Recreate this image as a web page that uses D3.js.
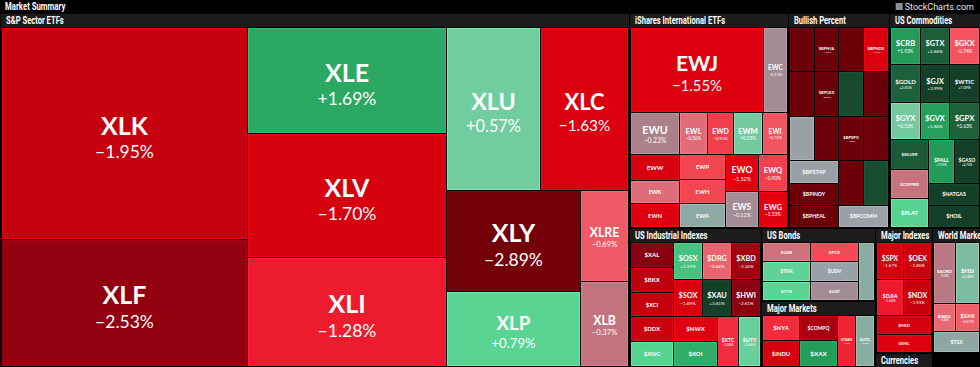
<!DOCTYPE html>
<html>
<head>
<meta charset="utf-8">
<script src="https://cdn.jsdelivr.net/npm/d3@7"></script>
<style>
  html, body { margin: 0; padding: 0; background: #000; overflow: hidden; }
  svg { display: block; }
</style>
</head>
<body>
<script>
// Market Summary treemap (StockCharts style)
// sizes = relative cell areas, changes = % move (colour + label)

// S&P Sector ETFs
var spTickers = ["XLK","XLF","XLE","XLV","XLI","XLU","XLC","XLY","XLP","XLRE","XLB"];
var spChanges = [-1.95,-2.53,1.69,-1.70,-1.28,0.57,-1.63,-2.89,0.79,-0.69,-0.37];
var spSizes   = [54810,32680,21955,25890,22576,16027,15004,14297,10513,4619,4268];

// iShares International ETFs
var isTickers = ["EWJ","EWC","EWU","EWL","EWD","EWM","EWI","EWW","EWK","EWN","EWP","EWH","EWA","EWO","EWS","EWQ","EWG"];
var isChanges = [-1.55,-0.11,-0.23,-0.56,-0.91,0.53,-0.72,-1.68,-0.55,-1.55,-0.86,-0.84,0.12,-1.52,-0.11,-0.90,-1.53];
var isSizes   = [12218,2239,2265,1321,1227,1321,1180,1369,1211,1264,1262,1211,1211,1299,1264,1177,1146];

// Bullish Percent ("" = no label shown)
var bpTickers = ["","","","$BPNYA","$BPOEX","","","","$BPSPX","$BPNDX","","","$BPSTAP","$BPINDY","","","$BPHEAL","$BPCOMM"];
var bpChanges = [-4.1,-3.8,0.0,-4.76,-3.85,-3.9,-3.7,3.2,-4.35,-1.61,-3.6,-3.9,0.0,-3.7,-3.8,3.1,-3.6,0.0];
var bpSizes   = [1206,1206,1206,1206,1206,1206,1206,1206,1206,1206,1206,1206,1206,1206,1206,1206,1206,1206];

// US Commodities
var cmTickers = ["$CRB","$GTX","$GKX","$GOLD","$GJX","$WTIC","$GYX","$GVX","$GPX","$SILVER","$COPPER","$PLAT","$PALL","$GASO","$NATGAS","$HOIL"];
var cmChanges = [1.93,2.66,-0.74,2.61,3.99,7.09,0.53,1.86,2.63,2.75,-0.40,0.85,1.95,4.70,3.80,4.20];
var cmSizes   = [1223,1223,1223,1223,1223,1223,1223,1223,1223,1223,1223,1223,1223,1223,1223,1223];

// US Industrial Indexes
var inTickers = ["$XAL","$BKX","$XCI","$OSX","$DRG","$XBD","$SOX","$XAU","$HWI","$DDX","$XNG","$NWX","$XOI","$XTC","$UTY"];
var inChanges = [-2.65,-2.05,-2.0,1.19,-0.64,-2.34,-1.69,3.61,-2.61,-1.9,0.85,-1.55,1.6,-1.08,0.66];
var inSizes   = [1223,1223,1223,1223,1223,1223,1223,1223,1223,1223,1223,1223,1223,1223,1223];

// US Bonds
var bdTickers = ["$USB","$FVX","$TNX","$USIV","$TYX","$UST",""];
var bdChanges = [-0.45,-0.80,0.72,0.02,0.80,-0.10,0.15];
var bdSizes   = [1189,1189,1189,1189,1189,1189,1189];

// Major Markets
var mmTickers = ["$NYA","$COMPQ","$INDU","$XAX","$TRAN","$UTIL"];
var mmChanges = [-1.10,-2.30,-1.70,1.90,-1.20,0.20];
var mmSizes   = [1254,1254,1254,1254,1254,1254];

// Major Indexes
var miTickers = ["$SPX","$OEX","$DJIA","$NDX","$MID","$SML"];
var miChanges = [-1.67,-1.85,-1.30,-1.93,-1.70,-1.55];
var miSizes   = [1188,1188,1188,1188,1188,1188];

// Currencies (cut off at the bottom)
var cuTickers = ["$USD","$XEU","$XJY","$XBP"];
var cuChanges = [0.30,-0.20,0.10,-0.10];
var cuSizes   = [200,200,200,200];

// World Markets
var wmTickers = ["$AORD","$HSI","$NIKK","$SMI","$TSX"];
var wmChanges = [-0.30,0.38,-0.60,-0.67,0.10];
var wmSizes   = [1584,1722,741,805,1148];

var blankSize = 672;

var W = 980, H = 367;

// diverging colour scale, dark red -> grey -> dark green
var color = d3.scaleLinear()
  .domain([-3.0,-2.6,-2.3,-1.95,-1.7,-1.5,-1.3,-1.0,-0.75,-0.6,-0.5,-0.35,-0.2,-0.1,0,0.15,0.35,0.55,0.8,1.2,1.7,1.95,2.3,2.65,3.5])
  .range(["#6b0008","#8c0010","#a8000f","#c6000e","#d6000f","#e2000f","#ec1a2c","#f03444","#f4505c","#e66a74","#d4707b","#c0747f","#a5848d","#a28d96","#9aa0a6","#8aaba2","#80b8a2","#72cc9f","#58d493","#46c280","#2aa862","#249a58","#1f7a48","#1d5e3a","#143f28"])
  .clamp(true);

function cells(t, c, s) {
  return t.map(function(name, i) { return {name: name, change: c[i], size: s[i]}; });
}
function row() { return {dir: "h", children: Array.from(arguments)}; }
function col() { return {dir: "v", children: Array.from(arguments)}; }
function section(title, dir, kids) { return {title: title, dir: dir, children: kids}; }

var s = cells(spTickers, spChanges, spSizes),
    i = cells(isTickers, isChanges, isSizes),
    b = cells(bpTickers, bpChanges, bpSizes),
    c = cells(cmTickers, cmChanges, cmSizes),
    n = cells(inTickers, inChanges, inSizes),
    d = cells(bdTickers, bdChanges, bdSizes),
    m = cells(mmTickers, mmChanges, mmSizes),
    x = cells(miTickers, miChanges, miSizes),
    u = cells(cuTickers, cuChanges, cuSizes),
    w = cells(wmTickers, wmChanges, wmSizes);

var tree = {
  title: "Market Summary", dir: "h",
  children: [
    section("S&P Sector ETFs", "h", [
      col(s[0], s[1]),
      col(s[2], s[3], s[4]),
      col(row(s[5], s[6]), row(col(s[7], s[8]), col(s[9], s[10])))
    ]),
    col(
      row(
        section("iShares International ETFs", "v", [
          row(i[0], i[1]),
          row(i[2], i[3], i[4], i[5], i[6]),
          row(col(i[7], i[8], i[9]), col(i[10], i[11], i[12]), col(i[13], i[14]), col(i[15], i[16]))
        ]),
        section("Bullish Percent", "v", [
          row(col(b[0], b[1], b[2]), col(b[3], b[4], b[5]), col(b[6], b[7], b[8]), col(b[9], b[10], b[11])),
          row(col(b[12], b[13]), b[14], b[15]),
          row(b[16], b[17])
        ]),
        section("US Commodities", "v", [
          row(c[0], c[1], c[2]),
          row(c[3], c[4], c[5]),
          row(c[6], c[7], c[8]),
          row(col(c[9], c[10], c[11]), col(row(c[12], c[13]), c[14], c[15]))
        ])
      ),
      row(
        section("US Industrial Indexes", "v", [
          row(col(n[0], n[1], n[2]), col(row(n[3], n[4], n[5]), row(n[6], n[7], n[8]))),
          row(col(n[9], n[10]), col(n[11], n[12]), n[13], n[14])
        ]),
        col(
          section("US Bonds", "h", [col(row(d[0], d[1]), row(d[2], d[3]), row(d[4], d[5])), d[6]]),
          section("Major Markets", "h", [col(row(m[0], m[1]), row(m[2], m[3])), m[4], m[5]])
        ),
        col(
          section("Major Indexes", "v", [row(x[0], x[1]), row(x[2], x[3]), x[4], x[5]]),
          section("Currencies", "h", u)
        ),
        col(
          section("World Markets", "v", [row(w[0], w[1]), row(w[2], w[3]), w[4]]),
          {blank: true, size: blankSize}
        )
      )
    )
  ]
};

function tile(node, x0, y0, x1, y1) {
  (node.data.dir === "h" ? d3.treemapDice : d3.treemapSlice)(node, x0, y0, x1, y1);
}

var root = d3.hierarchy(tree).sum(function(d) { return d.children ? 0 : d.size; });

d3.treemap()
  .size([W, H])
  .round(true)
  .tile(tile)
  .paddingInner(1)
  .paddingTop(function(d) { return d.data.title ? 14 : 0; })
  .paddingLeft(function(d) { return d.data.title ? 1 : 0; })
  .paddingRight(function(d) { return d.data.title && d.depth > 0 ? 1 : 0; })
  .paddingBottom(function(d) { return d.data.title && d.depth > 0 ? 1 : 0; })
  (root);

var svg = d3.select("body").append("svg")
    .attr("width", W)
    .attr("height", H)
    .style("background", "#000");

// title bar
svg.append("text")
    .attr("transform", "translate(5,10) scale(0.78,1)")
    .attr("fill", "#fff")
    .style("font", "bold 10px Roboto")
    .text("Market Summary");

var logo = svg.append("text")
    .attr("x", W - 6)
    .attr("y", 10)
    .attr("text-anchor", "end")
    .attr("fill", "#e6e6e6")
    .style("font", "9px Roboto")
    .text("StockCharts.com");
var lw = logo.node().getComputedTextLength();
svg.append("rect")
    .attr("x", W - 6 - lw - 9).attr("y", 3)
    .attr("width", 7).attr("height", 7)
    .attr("fill", "#8a8f96");

// section headers
var sections = root.descendants().filter(function(d) { return d.data.title && d.depth > 0; });

var defs = svg.append("defs");
defs.selectAll("clipPath")
    .data(sections)
  .enter().append("clipPath")
    .attr("id", function(d, k) { return "hc" + k; })
  .append("rect")
    .attr("x", function(d) { return d.x0; })
    .attr("y", function(d) { return d.y0; })
    .attr("width", function(d) { return d.x1 - d.x0; })
    .attr("height", 13);

var hdr = svg.selectAll(".hdr")
    .data(sections)
  .enter().append("g")
    .attr("class", "hdr")
    .attr("clip-path", function(d, k) { return "url(#hc" + k + ")"; });

hdr.append("rect")
    .attr("x", function(d) { return d.x0; })
    .attr("y", function(d) { return d.y0; })
    .attr("width", function(d) { return d.x1 - d.x0; })
    .attr("height", 13)
    .attr("fill", "#1c1c1c");

hdr.append("text")
    .attr("transform", function(d) { return "translate(" + (d.x0 + 5) + "," + (d.y0 + 10) + ") scale(0.76,1)"; })
    .attr("fill", "#fff")
    .style("font", "bold 10px Roboto")
    .text(function(d) { return d.data.title; });

// cells
var leaves = root.leaves().filter(function(d) { return d.y1 - d.y0 >= 1 && d.x1 - d.x0 >= 1; });

var cell = svg.selectAll(".cell")
    .data(leaves)
  .enter().append("g")
    .attr("class", "cell");

cell.append("rect")
    .attr("x", function(d) { return d.x0 + 0.5; })
    .attr("y", function(d) { return d.y0 + 0.5; })
    .attr("width", function(d) { return Math.max(0, d.x1 - d.x0 - 1); })
    .attr("height", function(d) { return Math.max(0, d.y1 - d.y0 - 1); })
    .attr("fill", function(d) { return d.data.blank ? "#000" : color(d.data.change); })
    .attr("stroke", function(d) { return d.data.blank ? "#000" : d3.color(color(d.data.change)).brighter(0.35); })
    .attr("stroke-width", 1);

function fmt(v) {
  return (v > 0 ? "+" : v < 0 ? "\u2212" : "") + Math.abs(v).toFixed(2) + "%";
}

cell.filter(function(d) { return !d.data.blank && d.data.name && d.y1 - d.y0 >= 8; })
  .each(function(d) {
    var g = d3.select(this),
        w = d.x1 - d.x0, h = d.y1 - d.y0,
        cx = (d.x0 + d.x1) / 2, cy = (d.y0 + d.y1) / 2,
        showPct = h >= 31 || (h >= 27 && w < 30),
        f = Math.min(25, 0.24 * Math.min(w, h) + 1,
                     (showPct ? 0.65 : 0.5) * w / (d.data.name.length * 0.62),
                     showPct ? 99 : 0.25 * h),
        pf = f * (f > 16 ? 0.7 : 0.62);

    g.append("text")
        .attr("x", cx)
        .attr("y", showPct ? cy + 0.05 * f : cy + 0.36 * f)
        .attr("text-anchor", "middle")
        .attr("fill", "#fff")
        .style("font-family", "Lato")
        .style("font-weight", 700)
        .style("font-size", f + "px")
        .text(d.data.name);

    if (showPct) {
      g.append("text")
          .attr("x", cx)
          .attr("y", cy + 0.05 * f + pf * 1.35)
          .attr("text-anchor", "middle")
          .attr("fill", "#fff")
          .style("font-family", "Lato")
          .style("font-weight", 400)
          .style("font-size", pf + "px")
          .text(fmt(d.data.change));
    }
  });
</script>
</body>
</html>
